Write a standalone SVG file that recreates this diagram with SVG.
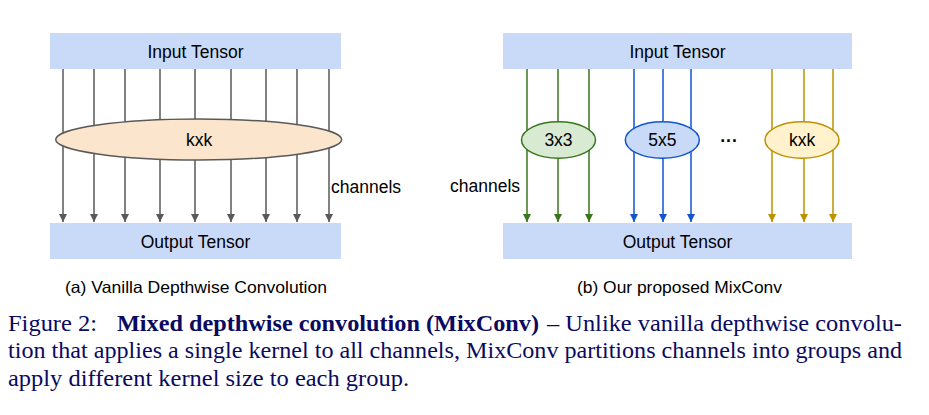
<svg xmlns="http://www.w3.org/2000/svg" width="929" height="415" viewBox="0 0 929 415">
<style>
.box{fill:#c9daf8;}
.lbl{font-family:"Liberation Sans",Arial,sans-serif;font-size:17.5px;fill:#000;}
.sub{font-family:"Liberation Sans",Arial,sans-serif;font-size:16.5px;fill:#000;}
.cap{font-family:"Liberation Serif","Times New Roman",serif;font-size:24px;fill:#0a0a60;}
.g{stroke:#595959;stroke-width:1.5;fill:none;}
.gr{stroke:#38761d;stroke-width:1.5;fill:none;}
.bl{stroke:#1155cc;stroke-width:1.5;fill:none;}
.ye{stroke:#bf9000;stroke-width:1.5;fill:none;}
</style>
<defs>
<marker id="ag" markerWidth="8" markerHeight="10" refX="8" refY="5" orient="auto" markerUnits="userSpaceOnUse"><path d="M0,1 L8,5 L0,9 Z" fill="#595959"/></marker>
<marker id="agr" markerWidth="8" markerHeight="10" refX="8" refY="5" orient="auto" markerUnits="userSpaceOnUse"><path d="M0,1 L8,5 L0,9 Z" fill="#38761d"/></marker>
<marker id="abl" markerWidth="8" markerHeight="10" refX="8" refY="5" orient="auto" markerUnits="userSpaceOnUse"><path d="M0,1 L8,5 L0,9 Z" fill="#1155cc"/></marker>
<marker id="aye" markerWidth="8" markerHeight="10" refX="8" refY="5" orient="auto" markerUnits="userSpaceOnUse"><path d="M0,1 L8,5 L0,9 Z" fill="#bf9000"/></marker>
</defs>
<rect width="929" height="415" fill="#fff"/>

<g id="connectors">
<g class="g" marker-end="url(#ag)">
<line x1="63" y1="69" x2="63" y2="222"/>
<line x1="94" y1="69" x2="94" y2="222"/>
<line x1="125" y1="69" x2="125" y2="222"/>
<line x1="160" y1="69" x2="160" y2="222"/>
<line x1="195" y1="69" x2="195" y2="222"/>
<line x1="231" y1="69" x2="231" y2="222"/>
<line x1="266" y1="69" x2="266" y2="222"/>
<line x1="297" y1="69" x2="297" y2="222"/>
<line x1="329" y1="69" x2="329" y2="222"/>
</g>
<g class="gr" marker-end="url(#agr)">
<line x1="527" y1="69" x2="527" y2="222"/>
<line x1="558" y1="69" x2="558" y2="222"/>
<line x1="589" y1="69" x2="589" y2="222"/>
</g>
<g class="bl" marker-end="url(#abl)">
<line x1="634" y1="69" x2="634" y2="222"/>
<line x1="663" y1="69" x2="663" y2="222"/>
<line x1="691" y1="69" x2="691" y2="222"/>
</g>
<g class="ye" marker-end="url(#aye)">
<line x1="772" y1="69" x2="772" y2="222"/>
<line x1="804" y1="69" x2="804" y2="222"/>
<line x1="833" y1="69" x2="833" y2="222"/>
</g>
</g>

<g id="a-input"><rect class="box" x="50" y="33" width="291" height="36"/><text class="lbl" x="195.5" y="57.5" text-anchor="middle">Input Tensor</text></g>
<g id="a-output"><rect class="box" x="50" y="223" width="291" height="36"/><text class="lbl" x="195.5" y="247.5" text-anchor="middle">Output Tensor</text></g>
<g id="a-kxk"><ellipse cx="198.7" cy="139.5" rx="143" ry="20.5" fill="#fce5cd" stroke="#595959" stroke-width="1.5"/><text class="lbl" x="199" y="145.5" text-anchor="middle">kxk</text></g>
<g id="a-channels"><text class="lbl" x="331" y="193">channels</text></g>

<g id="b-input"><rect class="box" x="503" y="33" width="349" height="36"/><text class="lbl" x="677.5" y="57.5" text-anchor="middle">Input Tensor</text></g>
<g id="b-output"><rect class="box" x="503" y="223" width="349" height="36"/><text class="lbl" x="677.5" y="247.5" text-anchor="middle">Output Tensor</text></g>
<g id="b-3x3"><ellipse cx="558.5" cy="140" rx="37" ry="18.3" fill="#d9ead3" stroke="#38761d" stroke-width="1.5"/><text class="lbl" x="558.5" y="146" text-anchor="middle">3x3</text></g>
<g id="b-5x5"><ellipse cx="662.3" cy="140" rx="37" ry="18.3" fill="#c9daf8" stroke="#1155cc" stroke-width="1.5"/><text class="lbl" x="662.3" y="146" text-anchor="middle">5x5</text></g>
<g id="b-dots"><text class="lbl" x="729" y="147" text-anchor="middle" font-size="20" font-weight="bold">···</text></g>
<g id="b-kxk"><ellipse cx="802" cy="140" rx="37" ry="18.3" fill="#fff2cc" stroke="#bf9000" stroke-width="1.5"/><text class="lbl" x="802" y="146" text-anchor="middle">kxk</text></g>
<g id="b-channels"><text class="lbl" x="450" y="192">channels</text></g>

<text class="sub" x="65" y="293" textLength="262" lengthAdjust="spacingAndGlyphs">(a) Vanilla Depthwise Convolution</text>
<text class="sub" x="577" y="293" textLength="205" lengthAdjust="spacingAndGlyphs">(b) Our proposed MixConv</text>

<text class="cap" x="8" y="331" textLength="89" lengthAdjust="spacingAndGlyphs">Figure 2:</text>
<text class="cap" x="117" y="331" font-weight="bold" textLength="422" lengthAdjust="spacingAndGlyphs">Mixed depthwise convolution (MixConv)</text>
<text class="cap" x="547" y="331" textLength="355" lengthAdjust="spacingAndGlyphs">– Unlike vanilla depthwise convolu-</text>
<text class="cap" x="8" y="358" textLength="894" lengthAdjust="spacingAndGlyphs">tion that applies a single kernel to all channels, MixConv partitions channels into groups and</text>
<text class="cap" x="8" y="386" textLength="401" lengthAdjust="spacingAndGlyphs">apply different kernel size to each group.</text>
</svg>
